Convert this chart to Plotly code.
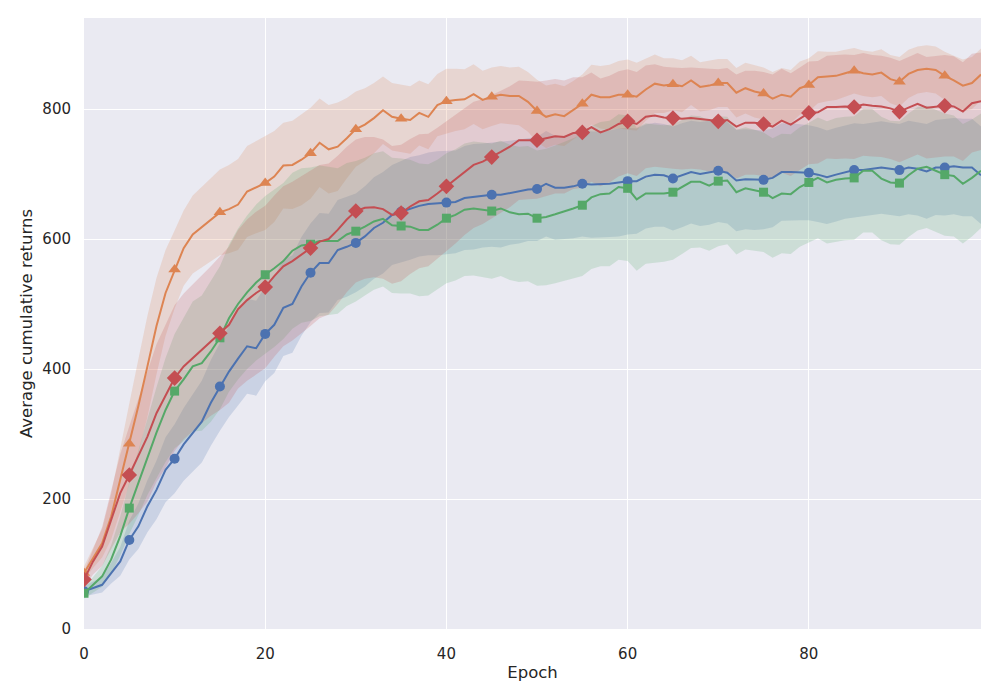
import plotly.graph_objects as go

epochs = list(range(100))

blue_mean = [58, 63, 68, 86, 104, 137, 158, 189, 214, 245,
             262, 284, 302, 319, 348, 373, 396, 416, 435, 432,
             454, 468, 494, 500, 527, 548, 563, 563, 583, 588,
             594, 604, 617, 625, 637, 642, 647, 651, 654, 655,
             656, 657, 663, 665, 667, 668, 668, 671, 673, 676,
             677, 685, 679, 679, 681, 685, 684, 684, 685, 687,
             689, 689, 696, 699, 698, 693, 698, 703, 700, 702,
             705, 702, 690, 692, 691, 691, 694, 703, 703, 703,
             702, 699, 695, 699, 703, 706, 706, 708, 710, 708,
             706, 710, 708, 704, 710, 710, 712, 710, 710, 698]
orange_mean = [86, 109, 132, 173, 230, 285, 343, 404, 466, 517,
               553, 586, 607, 618, 630, 641, 646, 653, 673, 680,
               686, 696, 713, 714, 722, 732, 748, 738, 742, 755,
               769, 776, 786, 798, 788, 785, 783, 794, 788, 806,
               812, 814, 815, 823, 814, 819, 822, 820, 820, 811,
               797, 788, 792, 789, 798, 808, 822, 818, 818, 822,
               822, 819, 830, 839, 836, 838, 835, 844, 834, 836,
               840, 840, 825, 832, 827, 824, 816, 822, 819, 832,
               837, 849, 850, 851, 855, 859, 855, 853, 856, 846,
               842, 854, 860, 862, 860, 851, 844, 836, 840, 853]
green_mean = [55, 68, 81, 107, 143, 186, 225, 266, 302, 337,
              366, 384, 404, 409, 427, 448, 478, 500, 518, 533,
              545, 555, 566, 582, 590, 592, 597, 597, 597, 607,
              612, 619, 627, 631, 621, 620, 619, 614, 614, 622,
              632, 637, 645, 647, 645, 643, 647, 641, 638, 639,
              632, 634, 638, 642, 647, 652, 664, 669, 670, 680,
              678, 661, 670, 670, 670, 672, 680, 688, 688, 682,
              689, 690, 672, 678, 675, 672, 663, 670, 669, 680,
              687, 694, 687, 691, 693, 694, 705, 705, 693, 687,
              686, 698, 708, 711, 705, 699, 697, 685, 694, 705]
red_mean = [76, 104, 127, 168, 209, 237, 266, 296, 332, 358,
            386, 404, 417, 430, 443, 455, 468, 492, 506, 517,
            526, 543, 558, 566, 576, 586, 596, 600, 614, 630,
            643, 648, 649, 646, 637, 640, 650, 658, 660, 670,
            681, 692, 704, 714, 719, 726, 734, 742, 752, 752,
            752, 755, 758, 757, 763, 764, 772, 764, 769, 777,
            781, 777, 788, 790, 787, 786, 785, 786, 785, 783,
            781, 783, 773, 779, 779, 777, 773, 782, 776, 785,
            794, 795, 803, 803, 804, 803, 807, 805, 804, 801,
            796, 802, 808, 802, 804, 805, 804, 796, 809, 812]

# half width of the shaded band around each mean
blue_spread = [8, 10, 12, 16, 22, 30, 35, 40, 45, 50,
               53, 56, 60, 63, 66, 68, 70, 72, 73, 73,
               73, 74, 74, 75, 76, 76, 77, 76, 77, 77,
               76, 77, 78, 78, 77, 78, 79, 78, 79, 80,
               80, 79, 80, 81, 80, 80, 81, 80, 80, 79,
               80, 81, 80, 79, 80, 81, 82, 81, 82, 83,
               82, 81, 80, 80, 79, 80, 80, 79, 80, 80,
               79, 78, 78, 77, 77, 76, 76, 75, 75, 74,
               73, 73, 72, 72, 72, 72, 71, 71, 71, 71,
               71, 72, 72, 73, 73, 74, 74, 75, 75, 75]
orange_spread = [10, 15, 22, 35, 50, 62, 72, 78, 74, 66,
                 60, 58, 60, 62, 64, 66, 68, 70, 70, 71,
                 72, 70, 66, 68, 70, 70, 68, 68, 68, 62,
                 58, 56, 54, 52, 52, 52, 52, 50, 50, 48,
                 50, 48, 46, 46, 45, 45, 44, 44, 45, 46,
                 48, 48, 47, 46, 45, 45, 46, 48, 50, 52,
                 54, 52, 48, 45, 42, 40, 40, 38, 38, 38,
                 37, 37, 38, 39, 40, 40, 41, 41, 41, 41,
                 41, 40, 38, 37, 36, 35, 35, 35, 36, 37,
                 38, 37, 36, 36, 36, 37, 38, 40, 40, 40]
green_spread = [8, 12, 16, 22, 30, 40, 50, 60, 70, 80,
                88, 95, 100, 104, 108, 110, 113, 116, 118, 120,
                121, 121, 120, 120, 119, 118, 116, 114, 112, 110,
                108, 106, 105, 104, 104, 104, 103, 102, 101, 100,
                100, 101, 102, 103, 104, 104, 104, 104, 104, 104,
                104, 105, 106, 107, 108, 109, 110, 111, 112, 112,
                112, 110, 108, 106, 105, 104, 103, 102, 101, 100,
                100, 98, 96, 94, 93, 92, 92, 92, 92, 92,
                92, 93, 94, 95, 95, 95, 95, 95, 95, 95,
                95, 95, 95, 94, 94, 94, 93, 92, 90, 88]
red_spread = [12, 20, 30, 45, 60, 75, 88, 100, 106, 110,
              112, 112, 113, 113, 115, 118, 120, 122, 124, 125,
              125, 124, 123, 122, 121, 120, 118, 116, 114, 112,
              110, 109, 108, 107, 106, 105, 104, 103, 102, 101,
              100, 99, 98, 97, 96, 95, 94, 93, 92, 91,
              90, 89, 88, 87, 86, 85, 84, 83, 82, 81,
              80, 80, 79, 79, 78, 78, 78, 78, 78, 79,
              80, 80, 80, 80, 80, 80, 80, 80, 79, 79,
              79, 79, 79, 80, 80, 80, 79, 78, 78, 78,
              78, 78, 78, 78, 78, 78, 77, 76, 76, 75]

x_ticks = [0, 20, 40, 60, 80]
y_ticks = [0, 200, 400, 600, 800]

series = [
    # mean, spread, line colour, band colour, marker symbol, marker size
    (blue_mean, blue_spread, '#4c72b0', 'rgba(76,114,176,0.2)', 'circle', 10),
    (orange_mean, orange_spread, '#dd8452', 'rgba(221,132,82,0.2)', 'triangle-up', 11),
    (green_mean, green_spread, '#55a868', 'rgba(85,168,104,0.2)', 'square', 9),
    (red_mean, red_spread, '#c44e52', 'rgba(196,78,82,0.2)', 'diamond', 12),
]


def make_band(mean, spread, fillcolor):
    upper = [m + s for m, s in zip(mean, spread)]
    lower = [m - s for m, s in zip(mean, spread)]
    return go.Scatter(x=epochs + epochs[::-1],
                      y=upper + lower[::-1],
                      fill='toself',
                      fillcolor=fillcolor,
                      line=dict(width=0),
                      mode='lines',
                      hoverinfo='skip',
                      showlegend=False)


def make_line(mean, color):
    return go.Scatter(x=epochs, y=mean, mode='lines',
                      line=dict(color=color, width=2),
                      showlegend=False)


def make_markers(mean, color, symbol, size):
    return go.Scatter(x=epochs[::5], y=mean[::5], mode='markers',
                      marker=dict(color=color, symbol=symbol, size=size,
                                  line=dict(width=0)),
                      showlegend=False)


data = []
for mean, spread, color, fillcolor, symbol, size in series:
    data.append(make_band(mean, spread, fillcolor))
for mean, spread, color, fillcolor, symbol, size in series:
    data.append(make_line(mean, color))
    data.append(make_markers(mean, color, symbol, size))

# the page body keeps its default 8px margin, so the figure is 8px smaller
layout = go.Layout(
    width=992, height=692,
    margin=dict(l=76, r=19, t=10, b=71),
    paper_bgcolor='white',
    plot_bgcolor='#eaeaf2',
    font=dict(family='DejaVu Sans', size=15, color='#262626'),
    xaxis=dict(range=[0, 99], tickvals=x_ticks, showgrid=True,
               gridcolor='white', gridwidth=1.3, zeroline=False,
               showline=False, ticks='', ticklabelstandoff=14,
               automargin=False, tickfont=dict(size=15),
               title=dict(text='Epoch', font=dict(size=16.5), standoff=4)),
    yaxis=dict(range=[0, 940], tickvals=y_ticks, showgrid=True,
               gridcolor='white', gridwidth=1.3, zeroline=False,
               showline=False, ticks='', ticklabelstandoff=12,
               automargin=False, tickfont=dict(size=15),
               title=dict(text='Average cumulative returns',
                          font=dict(size=16.5), standoff=5)),
)

fig = go.Figure(data=data, layout=layout)
fig.write_html("out.html")
